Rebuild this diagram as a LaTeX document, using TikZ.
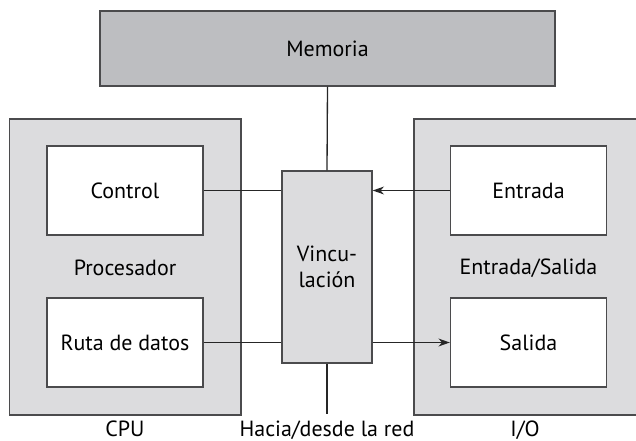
\documentclass[tikz,border=0pt]{standalone}
\usepackage{fontspec}
\setmainfont{PT Sans}
\usetikzlibrary{arrows.meta}

\definecolor{borda}{HTML}{4B4B4D}
\definecolor{cinzaescuro}{HTML}{BDBEC1}
\definecolor{cinzaclaro}{HTML}{DCDCDE}

\tikzset{
  bloco/.style={draw=borda, fill=cinzaclaro, line width=0.75pt, inner sep=0pt},
  caixa/.style={draw=borda, fill=white, line width=0.75pt, inner sep=0pt,
    minimum width=3.12cm, minimum height=1.78cm, font=\fontsize{12.5}{14}\selectfont},
  rotulo/.style={inner sep=0pt, font=\fontsize{12.5}{14}\selectfont},
  liga/.style={line width=0.75pt, draw=black!85},
  seta/.style={liga, -{Stealth[length=6.5pt,width=4.5pt]}}
}

\begin{document}
\begin{tikzpicture}[x=0.02cm, y=-0.02cm]

\useasboundingbox (0,0) rectangle (636,440);

% Memoria no topo
\node[bloco, fill=cinzaescuro, minimum width=9.1cm, minimum height=1.5cm,
  font=\fontsize{12.5}{14}\selectfont] (mem) at (327.5,48.5) {Memoria};

% Blocos externos (CPU e I/O)
\node[bloco, minimum width=4.63cm, minimum height=5.92cm] (cpu) at (125.25,267) {};
\node[bloco, minimum width=4.48cm, minimum height=5.92cm] (io) at (526,267) {};

% Caixas internas
\node[caixa] (ctrl) at (125,190.5) {Control};
\node[caixa] (ruta) at (125,342.5) {Ruta de datos};
\node[caixa] (ent) at (528.5,190.5) {Entrada};
\node[caixa] (sal) at (528.5,342.5) {Salida};

% Vinculacao no meio
\node[bloco, minimum width=1.8cm, minimum height=3.84cm, align=center,
  font=\fontsize{12.5}{14.5}\selectfont] (vinc) at (327,267) {Vincu-\\lación};

% Textos
\node[rotulo] (proc) at (125,268) {Procesador};
\node[rotulo] (es) at (528.5,268) {Entrada/Salida};
\node[rotulo, anchor=base] (lcpu) at (125,436) {CPU};
\node[rotulo, anchor=base] (lred) at (327,436) {Hacia/desde la red};
\node[rotulo, anchor=base] (lio) at (525,436) {I/O};
\coordinate (rede) at (327,414);

% Ligacoes
\draw[liga] (mem.south) -- (vinc.north);
\draw[liga] (vinc.south) -- (rede);
\draw[liga] (ctrl.east) -- (ctrl.east -| vinc.west);
\draw[seta] (ent.west) -- (ent.west -| vinc.east);
\draw[liga] (ruta.east) -- (ruta.east -| vinc.west);
\draw[seta] (sal.west -| vinc.east) -- (sal.west);

\end{tikzpicture}
\end{document}
